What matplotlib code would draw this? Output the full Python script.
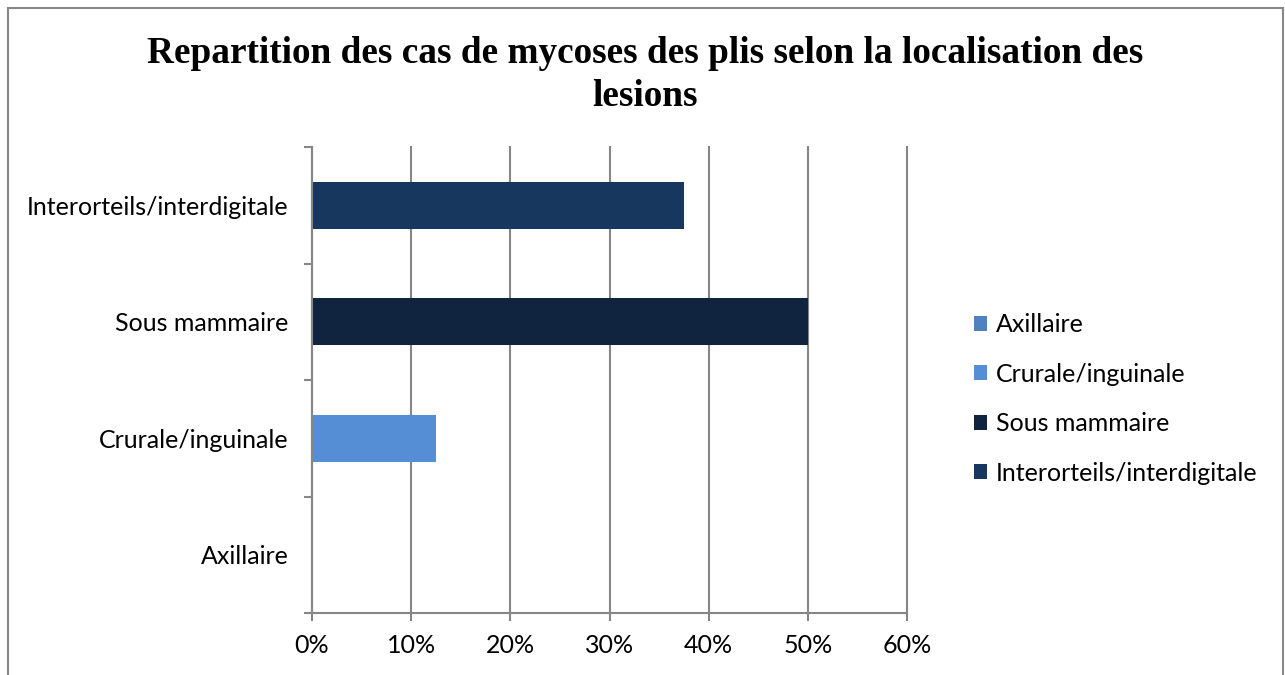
import matplotlib
matplotlib.use("Agg")
import matplotlib.pyplot as plt
from matplotlib.patches import Rectangle, Patch
from matplotlib.ticker import FuncFormatter, FixedLocator

categories = ["Axillaire", "Crurale/inguinale", "Sous mammaire", "Interorteils/interdigitale"]
values = [0.0, 12.5, 50.0, 37.5]
colors = ["#4F81BD", "#558ED5", "#10243F", "#17375E"]
title = "Repartition des cas de mycoses des plis selon la localisation des\nlesions"
xticks = [0, 10, 20, 30, 40, 50, 60]

fig = plt.figure(figsize=(12.85, 6.75), dpi=100)
ax = fig.add_axes([312/1285, 1-613/675, (907-312)/1285, (613-147)/675])

ypos = list(range(len(categories)))
ax.barh(ypos, values, height=0.4, color=colors, zorder=3)
ax.set_xlim(0, 60)
ax.set_ylim(-0.5, 3.5)

grid_c = "#868686"
ax.set_xticks(xticks)
ax.xaxis.set_major_formatter(FuncFormatter(lambda v, p: f"{int(v)}%"))
ax.grid(axis="x", color=grid_c, linewidth=1.5, zorder=0)
for gl in ax.get_xgridlines():
    gl.set_clip_on(False)
ax.set_yticks(ypos)
ax.set_yticklabels(categories)
ax.yaxis.set_minor_locator(FixedLocator([-0.5, 0.5, 1.5, 2.5, 3.5]))
ax.tick_params(axis="y", which="major", length=0, pad=17)
ax.tick_params(axis="y", which="minor", length=6, width=1.5, color=grid_c, direction="out")
ax.tick_params(axis="x", which="major", length=6, width=1.5, color=grid_c, direction="out", pad=9)
for lab in ax.get_xticklabels() + ax.get_yticklabels():
    lab.set_fontfamily("Lato")
    lab.set_fontsize(18)
for s in ["top", "right"]:
    ax.spines[s].set_visible(False)
for s in ["left", "bottom"]:
    ax.spines[s].set_color(grid_c)
    ax.spines[s].set_linewidth(1.5)
    ax.spines[s].set_zorder(4)

fig.text(645/1285, 1-75/675, title, ha="center", va="center", family="Liberation Serif",
         fontweight="bold", fontsize=26.8, linespacing=1.28)

handles = [Patch(facecolor=c, edgecolor="none") for c in colors]
leg = fig.legend(handles, categories, loc="center left", bbox_to_anchor=(951/1285, 1-399/675),
                 frameon=False, prop={"family": "Lato", "size": 18}, handlelength=0.55,
                 handleheight=0.55, handletextpad=0.35, labelspacing=1.06)

fig.patches.append(Rectangle((8/1285, -0.02), 1275/1285, (675-8)/675 + 0.02,
                             transform=fig.transFigure, fill=False, edgecolor="#888888",
                             linewidth=1.5, clip_on=False))

fig.savefig("out.png", dpi=100)
